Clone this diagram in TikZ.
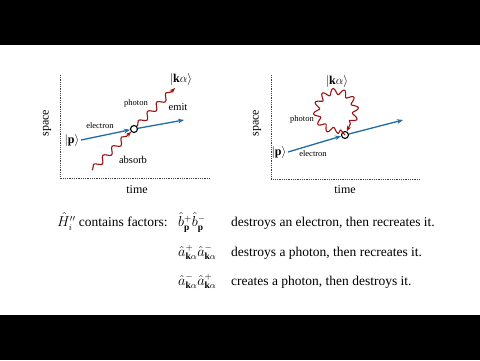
\documentclass[tikz,border=0pt]{standalone}
\usepackage{fontspec}
\setmainfont{Liberation Serif}
\usetikzlibrary{decorations.pathmorphing,arrows.meta}
\definecolor{eblue}{RGB}{30,108,168}
\definecolor{pred}{RGB}{155,18,18}
\begin{document}
\begin{tikzpicture}[x=1pt,y=-1pt,
 declare function={wr(\t)=19.5+3*sin(12.07*(\t-76))*min(1,(\t-76)/8,(404-\t)/8);},
 axis/.style={densely dotted, line width=0.8pt, black!75},
 elec/.style={eblue, line width=1.3pt, -{Stealth[length=6pt,width=4.6pt]}},
 phot/.style={pred, line width=1.1pt, decorate, decoration={snake, amplitude=3pt, segment length=13pt, post length=4pt, pre length=1pt}, -{Stealth[length=5.5pt,width=4.4pt]}},
 loopline/.style={pred, line width=1.1pt, line join=round, -{Stealth[length=5.5pt,width=4.4pt]}},
 vtx/.style={circle, draw=black, fill=white, line width=1.1pt, inner sep=0pt, minimum size=7pt},
 lbl/.style={font=\fontsize{12}{14}\selectfont, inner sep=0pt},
 smalllbl/.style={font=\fontsize{8.5}{10}\selectfont, inner sep=0pt},
 midlbl/.style={font=\fontsize{10.5}{12}\selectfont, inner sep=0pt},
 body/.style={font=\fontsize{13.5}{16}\selectfont, inner sep=0pt, anchor=base west}]
\fill[black] (0,0) rectangle (480,360);
\fill[white] (0,45) rectangle (480,315);
\useasboundingbox (0,0) rectangle (480,360);
% ---------- left panel ----------
\coordinate (ltop) at (60,75);
\coordinate (lorig) at (60,178);
\coordinate (lright) at (210,178);
\draw[axis] (ltop) -- (lorig) -- (lright);
\node[lbl, rotate=90] (lspace) at (47,123) {space};
\node[lbl] (ltime) at (137,190) {time};
\node[vtx] (lv) at (134,129) {};
\node[lbl] (lp) at (72,140) {$|\mathbf{p}\rangle$};
\coordinate (le1) at (184,120);
\draw[elec] ([xshift=1.5pt]lp.east) -- (lv);
\draw[elec] (lv) -- (le1);
\coordinate (lph0) at (92,170);
\coordinate (lph1) at (175,88);
\draw[phot] (lph0) -- (lv);
\draw[phot] (lv) -- (lph1);
\node[lbl] (lk) at (181,79) {$|\mathbf{k}\alpha\rangle$};
\node[smalllbl] (lphl) at (136,103) {photon};
\node[smalllbl] (lell) at (100,126) {electron};
\node[midlbl] (lemit) at (178,107) {emit};
\node[midlbl] (labs) at (133,160) {absorb};
% ---------- right panel ----------
\coordinate (rtop) at (271,75);
\coordinate (rorig) at (271,179);
\coordinate (rright) at (420,179);
\draw[axis] (rtop) -- (rorig) -- (rright);
\node[lbl, rotate=90] (rspace) at (257,123) {space};
\node[lbl] (rtime) at (345,190) {time};
\node[vtx] (rv) at (345,135) {};
\node[lbl] (rp) at (279,152) {$|\mathbf{p}\rangle$};
\coordinate (re1) at (403,120);
\draw[elec] ([xshift=1.5pt]rp.east) -- (rv);
\draw[elec] (rv) -- (re1);
\draw[loopline] (rv) -- plot[domain=76:404, samples=300, variable=\t]
  ({336+wr(\t)*cos(\t)}, {111+wr(\t)*sin(\t)}) -- (rv);
\node[lbl] (rk) at (337,81) {$|\mathbf{k}\alpha\rangle$};
\node[smalllbl] (rphl) at (302,119) {photon};
\node[smalllbl] (rell) at (313,154) {electron};
% ---------- text ----------
\node[body] (h) at (57,226.5) {$\hat{H}_i''$ contains factors:};
\node[body] (f1) at (178,226.5) {$\hat b^{+}_{\mathbf p}\hat b^{-}_{\mathbf p}$};
\node[body] (d1) at (231,226.5) {destroys an electron, then recreates it.};
\node[body] (f2) at (178,256) {$\hat a^{+}_{\mathbf k\alpha}\hat a^{-}_{\mathbf k\alpha}$};
\node[body] (d2) at (231,256) {destroys a photon, then recreates it.};
\node[body] (f3) at (178,285) {$\hat a^{-}_{\mathbf k\alpha}\hat a^{+}_{\mathbf k\alpha}$};
\node[body] (d3) at (231,285) {creates a photon, then destroys it.};
\end{tikzpicture}
\end{document}
